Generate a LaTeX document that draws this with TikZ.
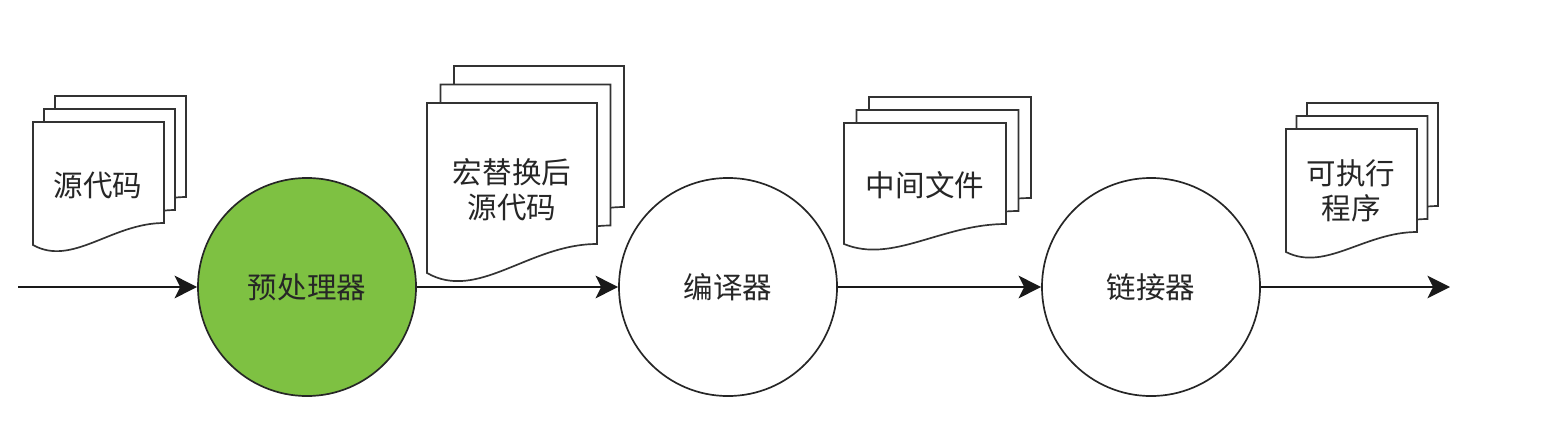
\documentclass[tikz,border=0pt]{standalone}
\usepackage{fontspec}
\newfontfamily\cjk{Noto Sans CJK SC}
\usepackage{tikz}
\usetikzlibrary{arrows.meta,calc}
\definecolor{pregreen}{RGB}{126, 193, 66}
\definecolor{inkgray}{RGB}{38, 38, 38}
% one page of a stack: x, y (top left), width, height, wave rise
\newcommand{\docpage}[5]{%
  \filldraw[pageline] (#1,#2) -- ++(#3,0) -- ++(0,#4-#5)
    .. controls +(-0.4*#3,0) and +(0.3*#3,#5) .. (#1,#2+#4) -- cycle;
}
% three pages: x, y, width, height, wave rise, x step, y step
\newcommand{\docstack}[7]{%
  \docpage{#1+2*#6}{#2-2*#7}{#3}{#4}{#5}
  \docpage{#1+#6}{#2-#7}{#3}{#4}{#5}
  \docpage{#1}{#2}{#3}{#4}{#5}
}

\begin{document}
\begin{tikzpicture}[x=0.025cm, y=-0.025cm,
    pageline/.style={draw=black!80, fill=white, line width=1.2pt},
    label/.style={font=\cjk\fontsize{21}{25}\selectfont, text=inkgray, align=center},
    stage/.style={circle, draw=black!85, line width=1.2pt, minimum size=5.45cm,
      inner sep=0pt, font=\cjk\fontsize{21}{25}\selectfont, text=inkgray},
    flow/.style={-{Stealth[length=16pt, width=16pt, inset=4pt]}, line width=2pt, black!90}]
    \useasboundingbox (0,0) rectangle (1556,440);
    % Document stacks
    \docstack{33}{122}{131}{123}{22}{11}{13}
    \docstack{427}{103}{170}{170}{29}{13.5}{18.5}
    \docstack{844}{123}{162}{121}{20}{12.5}{13}
    \docstack{1286}{129}{131}{123}{20}{10.5}{13}
    \node[label] (src) at (98,185) {源代码};
    \node[label] (macro) at (512,190) {宏替换后\\源代码};
    \node[label] (obj) at (925,185) {中间文件};
    \node[label] (exe) at (1351,191) {可执行\\程序};
    % Stages
    \node[stage, fill=pregreen] (pre) at (307,287) {预处理器};
    \node[stage, fill=white] (cc) at (728,287) {编译器};
    \node[stage, fill=white] (ld) at (1151,287) {链接器};
    % Flow arrows
    \coordinate (start) at (18,287);
    \coordinate (finish) at (1450,287);
    \draw[flow] (start) -- (pre);
    \draw[flow] (pre) -- (cc);
    \draw[flow] (cc) -- (ld);
    \draw[flow] (ld) -- (finish);
\end{tikzpicture}
\end{document}
